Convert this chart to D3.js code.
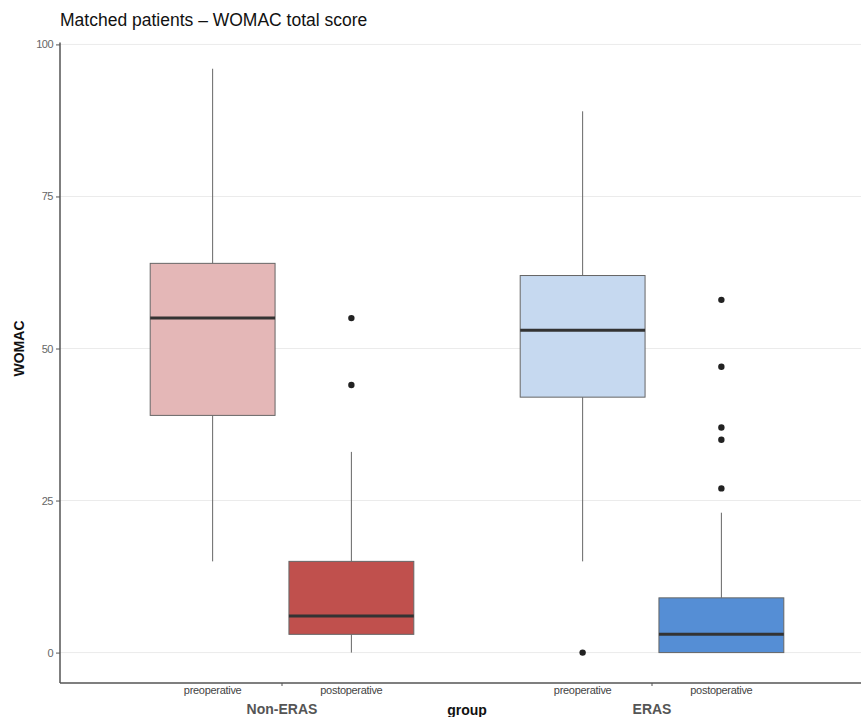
<!DOCTYPE html>
<html lang="en">
<head>
    <meta charset="UTF-8">
    <title>WOMAC total score</title>
    <style>
        body { margin: 0; background: #fff; }
        text { font-family: "Liberation Sans", Arial, sans-serif; }
        .grid line { stroke: #ebebeb; stroke-width: 1px; }
    </style>
</head>
<body>
    <script src="https://d3js.org/d3.v7.min.js"></script>
    <script>
        var width = 861;
        var height = 717;

        // groups and periods
        var groups = ["Non-ERAS", "ERAS"];
        var periods = ["preoperative", "postoperative"];

        // box stats per group/period: [low whisker, q1, median, q3, high whisker]
        var nonErasPre = [15, 39, 55, 64, 96];
        var nonErasPost = [0, 3, 6, 15, 33];
        var erasPre = [15, 42, 53, 62, 89];
        var erasPost = [0, 0, 3, 9, 23];

        // outliers
        var nonErasPreOut = [];
        var nonErasPostOut = [55, 44];
        var erasPreOut = [0];
        var erasPostOut = [58, 47, 37, 35, 27];

        var fills = ["#e4b7b7", "#c0504d", "#c6d9f0", "#558ed5"];
        var yTicks = [0, 25, 50, 75, 100];

        var boxes = [
            { group: "Non-ERAS", period: "preoperative", s: nonErasPre, out: nonErasPreOut, fill: fills[0] },
            { group: "Non-ERAS", period: "postoperative", s: nonErasPost, out: nonErasPostOut, fill: fills[1] },
            { group: "ERAS", period: "preoperative", s: erasPre, out: erasPreOut, fill: fills[2] },
            { group: "ERAS", period: "postoperative", s: erasPost, out: erasPostOut, fill: fills[3] }
        ];

        var margin = { left: 60, right: 0, top: 14, bottom: 34 };

        var svg = d3.select("body").append("svg")
            .attr("width", width)
            .attr("height", height);

        // y scale: -5..105 like ggplot expansion
        var y = d3.scaleLinear()
            .domain([-5, 105])
            .range([height - margin.bottom, margin.top]);

        // group positions, then dodge inside each group
        var groupCenter = d3.scalePoint()
            .domain(groups)
            .range([282, 652]);
        var dodge = d3.scaleBand()
            .domain(periods)
            .range([-0.375 * 370, 0.375 * 370]);
        var boxW = dodge.bandwidth() * 0.9;

        function cx(d) {
            return groupCenter(d.group) + dodge(d.period) + dodge.bandwidth() / 2;
        }

        // grid
        svg.append("g").attr("class", "grid")
            .selectAll("line")
            .data(yTicks)
            .enter().append("line")
            .attr("x1", margin.left)
            .attr("x2", width)
            .attr("y1", function(d) { return y(d); })
            .attr("y2", function(d) { return y(d); });

        // y axis
        var yAxis = svg.append("g")
            .attr("transform", "translate(" + margin.left + ",0)")
            .call(d3.axisLeft(y).tickValues(yTicks).tickSize(4).tickPadding(3));
        yAxis.select(".domain").remove();
        yAxis.selectAll(".tick line").attr("stroke", "#555");
        yAxis.selectAll(".tick text")
            .attr("fill", "#666")
            .style("font-size", "11px")
            .style("letter-spacing", "-0.5px");

        svg.append("line")
            .attr("x1", margin.left).attr("x2", margin.left)
            .attr("y1", y(100) - 2).attr("y2", y(-5))
            .attr("stroke", "#555").attr("stroke-width", 1.5);

        // x axis line and group ticks
        svg.append("line")
            .attr("x1", margin.left).attr("x2", width)
            .attr("y1", y(-5)).attr("y2", y(-5))
            .attr("stroke", "#555").attr("stroke-width", 1.5);

        svg.selectAll(".gtick")
            .data(groups)
            .enter().append("line")
            .attr("x1", function(d) { return groupCenter(d); })
            .attr("x2", function(d) { return groupCenter(d); })
            .attr("y1", y(-5)).attr("y2", y(-5) + 3)
            .attr("stroke", "#555");

        // boxes
        var b = svg.selectAll(".box")
            .data(boxes)
            .enter().append("g")
            .attr("class", "box");

        b.append("line")
            .attr("x1", cx).attr("x2", cx)
            .attr("y1", function(d) { return y(d.s[4]); })
            .attr("y2", function(d) { return y(d.s[3]); })
            .attr("stroke", "#666").attr("stroke-width", 1);
        b.append("line")
            .attr("x1", cx).attr("x2", cx)
            .attr("y1", function(d) { return y(d.s[1]); })
            .attr("y2", function(d) { return y(d.s[0]); })
            .attr("stroke", "#666").attr("stroke-width", 1);

        b.append("rect")
            .attr("x", function(d) { return cx(d) - boxW / 2; })
            .attr("width", boxW)
            .attr("y", function(d) { return y(d.s[3]); })
            .attr("height", function(d) { return y(d.s[1]) - y(d.s[3]); })
            .attr("fill", function(d) { return d.fill; })
            .attr("stroke", "#666").attr("stroke-width", 1);

        b.append("line")
            .attr("x1", function(d) { return cx(d) - boxW / 2; })
            .attr("x2", function(d) { return cx(d) + boxW / 2; })
            .attr("y1", function(d) { return y(d.s[2]); })
            .attr("y2", function(d) { return y(d.s[2]); })
            .attr("stroke", "#333").attr("stroke-width", 3);

        b.selectAll(".out")
            .data(function(d) { return d.out.map(function(v) { return { v: v, x: cx(d) }; }); })
            .enter().append("circle")
            .attr("cx", function(d) { return d.x; })
            .attr("cy", function(d) { return y(d.v); })
            .attr("r", 3.2)
            .attr("fill", "#222");

        // period labels
        svg.selectAll(".plabel")
            .data(boxes)
            .enter().append("text")
            .attr("x", cx)
            .attr("y", y(-5) + 11)
            .attr("text-anchor", "middle")
            .attr("fill", "#444")
            .style("font-size", "11px")
            .style("letter-spacing", "-0.3px")
            .text(function(d) { return d.period; });

        // group labels
        svg.selectAll(".glabel")
            .data(groups)
            .enter().append("text")
            .attr("x", function(d) { return groupCenter(d); })
            .attr("y", y(-5) + 31)
            .attr("text-anchor", "middle")
            .attr("fill", "#555")
            .style("font-size", "14px")
            .style("font-weight", "bold")
            .text(function(d) { return d; });

        svg.append("text")
            .attr("x", 467)
            .attr("y", y(-5) + 32)
            .attr("text-anchor", "middle")
            .attr("fill", "#111")
            .style("font-size", "14px")
            .style("font-weight", "bold")
            .text("group");

        svg.append("text")
            .attr("transform", "translate(24," + y(50) + ") rotate(-90)")
            .attr("text-anchor", "middle")
            .attr("fill", "#111")
            .style("font-size", "14px")
            .style("font-weight", "bold")
            .text("WOMAC");

        svg.append("text")
            .attr("x", 60)
            .attr("y", 26)
            .attr("fill", "#111")
            .style("font-size", "17.5px")
            .text("Matched patients \u2013 WOMAC total score");
    </script>
</body>
</html>
